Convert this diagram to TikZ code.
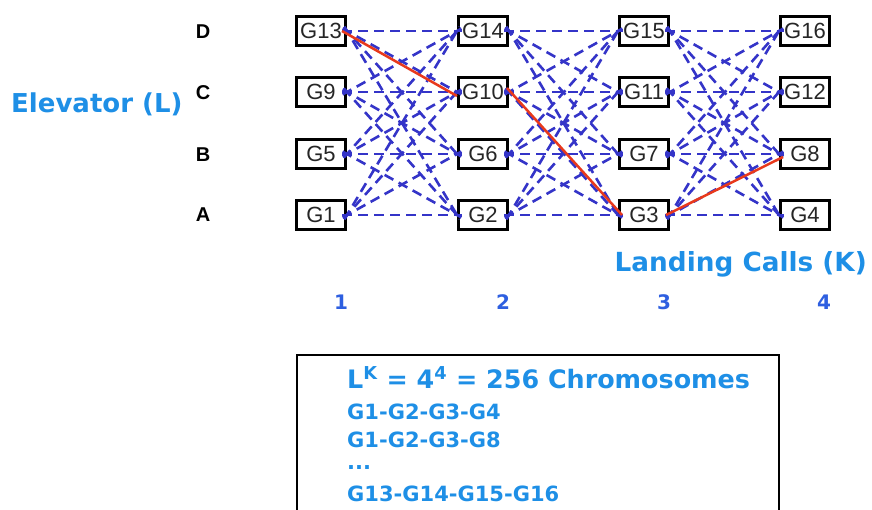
\documentclass[tikz,border=0pt]{standalone}
\usepackage{fontspec}
\setmainfont{Liberation Sans}
\newfontfamily\bluefont{DejaVu Sans}
\definecolor{dashblue}{HTML}{3434C8}
\definecolor{titleblue}{HTML}{1E8FE6}
\definecolor{numblue}{HTML}{2E5FE0}
\definecolor{pathred}{HTML}{E8391C}
\begin{document}
\begin{tikzpicture}[x=1pt,y=-1pt,
  gbox/.style={draw=black, line width=3pt, minimum width=49pt, minimum height=29pt,
    inner sep=0pt, font=\fontsize{22}{22}\selectfont, text=black!85, fill=white},
  conn/.style={draw=dashblue, line width=2.6pt, dash pattern=on 10pt off 6pt,
    shorten <=-5pt, shorten >=-5pt},
  redpath/.style={draw=pathred, line width=2.5pt},
  rowlab/.style={font=\fontsize{20}{20}\selectfont\bfseries, text=black},
  title/.style={font=\bluefont\bfseries\fontsize{25}{25}\selectfont, text=titleblue, inner sep=0pt},
  numlab/.style={font=\bluefont\bfseries\fontsize{20}{20}\selectfont, text=numblue, inner sep=0pt},
  chrom/.style={font=\bluefont\bfseries\fontsize{21}{21}\selectfont, text=titleblue, inner sep=0pt, anchor=west},
]
\useasboundingbox (0,0) rectangle (872,509);

% grid of genes: column c, row r (1=A ... 4=D)
\foreach \c/\x in {1/321,2/483,3/644,4/805}{
  \foreach \r/\y in {1/215,2/154,3/92,4/31}{
    \pgfmathtruncatemacro{\g}{(\r-1)*4+\c}
    \node[gbox] (n-\c-\r) at (\x,\y) {G\g};
  }
}

% dashed connectors: every gene to every gene in the next column
\foreach \c/\d in {1/2,2/3,3/4}{
  \foreach \r in {1,...,4}{
    \foreach \s in {1,...,4}{
      \draw[conn] (n-\c-\r.east) -- (n-\d-\s.west);
    }
  }
}

% red chosen chromosome
\draw[redpath] ([xshift=-5pt]n-1-4.east) -- ([yshift=-4pt]n-2-3.west);
\draw[redpath] ([yshift=4pt,xshift=-2pt]n-2-3.east) -- ([xshift=4pt]n-3-1.west);
\draw[redpath] ([xshift=-4pt]n-3-1.east) -- ([xshift=4pt,yshift=-3pt]n-4-2.west);

% row labels
\node[rowlab] (lD) at (203,32) {D};
\node[rowlab] (lC) at (203,93) {C};
\node[rowlab] (lB) at (203,155) {B};
\node[rowlab] (lA) at (203,215) {A};

\node[title, anchor=west, font=\bluefont\bfseries\fontsize{26}{26}\selectfont] (elev) at (11,104) {Elevator (L)};
\node[title, anchor=east, font=\bluefont\bfseries\fontsize{26.3}{26.3}\selectfont] (land) at (867,264) {Landing Calls (K)};

\node[numlab] (k1) at (341,302) {1};
\node[numlab] (k2) at (503,302) {2};
\node[numlab] (k3) at (664,302) {3};
\node[numlab] (k4) at (824,302) {4};

% chromosome box
\draw[line width=2.4pt] (297,520) -- (297,355) -- (779,355) -- (779,520);
\node[chrom, font=\bluefont\bfseries\fontsize{25.4}{25.4}\selectfont] (t0) at (347,378) {L\textsuperscript{K} = 4\textsuperscript{4} = 256 Chromosomes};
\node[chrom] (t1) at (347,412) {G1-G2-G3-G4};
\node[chrom] (t2) at (347,440) {G1-G2-G3-G8};
\node[chrom] (t3) at (347,468) {...};
\node[chrom] (t4) at (347,494) {G13-G14-G15-G16};
\end{tikzpicture}
\end{document}
